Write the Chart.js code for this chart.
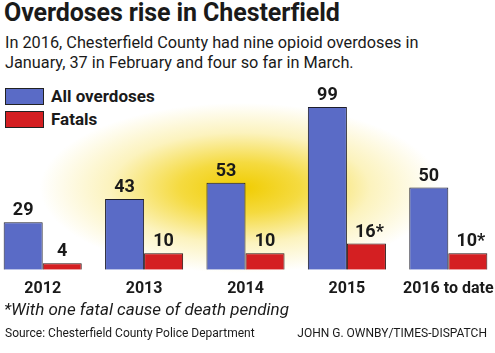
<!DOCTYPE html>
<html>
<head>
<meta charset="utf-8">
<script src="https://cdn.jsdelivr.net/npm/chart.js@4"></script>
<style>
	html, body { margin: 0; padding: 0; }
	body { width: 495px; height: 353px; position: relative; overflow: hidden; background: #fff; font-family: Roboto, "Noto Sans", sans-serif; color: #1a1a1a; }
	.glow { position: absolute; left: 0; top: 0; width: 495px; height: 353px;
		background: radial-gradient(ellipse 200px 85px at 240px 188px, rgba(240,204,0,1) 0%, rgba(243,212,30,0.85) 30%, rgba(248,228,110,0.45) 65%, rgba(255,255,255,0) 100%); }
	#title { position: absolute; left: 4px; top: -2px; font-size: 25px; font-weight: 700; letter-spacing: -0.1px; }
	#subtitle { position: absolute; left: 5px; top: 33px; font-size: 16.3px; line-height: 20px; }
	.legend { position: absolute; left: 5px; font-size: 17px; font-weight: 700; display: flex; align-items: center; }
	.legend i { display: inline-block; width: 37px; height: 15px; border: 1px solid #222; margin-right: 7px; }
	#chart-wrap { position: absolute; left: -8px; top: 75px; width: 507px; height: 226px; }
	#note { position: absolute; left: 4px; top: 299px; font-size: 17px; font-style: italic; }
	#source { position: absolute; left: 5px; top: 326px; font-size: 12px; }
	#credit { position: absolute; right: 8px; top: 326px; font-size: 12px; }
</style>
</head>
<body>
<div class="glow"></div>
<div id="title">Overdoses rise in Chesterfield</div>
<div id="subtitle">In 2016, Chesterfield County had nine opioid overdoses in<br>January, 37 in February and four so far in March.</div>
<div class="legend" style="top:86px"><i style="background:#5a6bc6"></i>All overdoses</div>
<div class="legend" style="top:109px"><i style="background:#d41f22"></i>Fatals</div>
<div id="chart-wrap"><canvas id="chart"></canvas></div>
<div id="note">*With one fatal cause of death pending</div>
<div id="source">Source: Chesterfield County Police Department</div>
<div id="credit">JOHN G. OWNBY/TIMES-DISPATCH</div>
<script>
const years = ["2012", "2013", "2014", "2015", "2016 to date"];
const allOverdoses = [29, 43, 53, 99, 50];
const fatals = [4, 10, 10, 16, 10];
const fatalNotes = ["", "", "", "*", "*"];

const valueLabels = {
	id: "valueLabels",
	afterDatasetsDraw(chart) {
		const ctx = chart.ctx;
		ctx.save();
		ctx.font = "700 18px Roboto, sans-serif";
		ctx.fillStyle = "#1a1a1a";
		ctx.textAlign = "center";
		ctx.textBaseline = "alphabetic";
		chart.data.datasets.forEach((ds, di) => {
			chart.getDatasetMeta(di).data.forEach((bar, i) => {
				const note = di === 1 ? fatalNotes[i] : "";
				ctx.fillText(ds.data[i] + note, bar.x + (note ? 3 : 0), bar.y - 7);
			});
		});
		ctx.restore();
	},
};

new Chart(document.getElementById("chart"), {
	type: "bar",
	data: {
		labels: years,
		datasets: [
			{ label: "All overdoses", data: allOverdoses, backgroundColor: "#5a6bc6", borderColor: "#1d1d2b", borderWidth: 1 },
			{ label: "Fatals", data: fatals, backgroundColor: "#d41f22", borderColor: "#2a1515", borderWidth: 1 },
		],
	},
	options: {
		responsive: true,
		maintainAspectRatio: false,
		animation: false,
		layout: { padding: { top: 14, left: 0, right: 0, bottom: 0 } },
		plugins: { legend: { display: false }, tooltip: { enabled: false } },
		datasets: { bar: { categoryPercentage: 0.77, barPercentage: 1 } },
		scales: {
			x: {
				grid: { display: false },
				border: { display: false },
				ticks: { color: "#1a1a1a", font: { family: "Roboto", size: 16, weight: "700" }, padding: 2 },
			},
			y: { display: false, min: 0, max: 110 },
		},
	},
	plugins: [valueLabels],
});
</script>
</body>
</html>
